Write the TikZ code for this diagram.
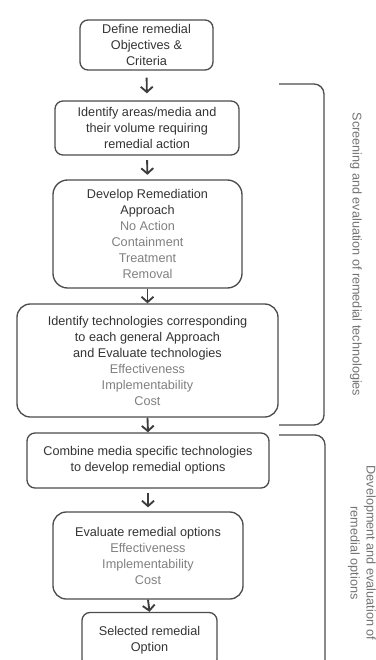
\documentclass[tikz,border=0pt]{standalone}
\usepackage{fontspec}
\setmainfont{Liberation Sans}
\usetikzlibrary{arrows.meta}
\definecolor{boxline}{gray}{0.3}
\definecolor{titlegray}{gray}{0.2}
\definecolor{itemgray}{gray}{0.5}
\newcommand{\itm}[1]{{\color{itemgray}#1}}
\tikzset{
  stepbox/.style={draw=boxline, line width=1pt, rounded corners=6pt, align=center,
    text=titlegray, font=\fontsize{9.5}{12}\selectfont, inner sep=2pt},
  flow/.style={draw=boxline!80!black, line width=1.4pt, -{Straight Barb[length=4pt,width=9pt]}},
  brk/.style={draw=boxline, line width=1pt, rounded corners=7.5pt},
  lbl/.style={text=itemgray!90!black, font=\fontsize{9.5}{12}\selectfont, align=center}
}
\begin{document}
\begin{tikzpicture}[x=0.75pt,y=-0.75pt]
\useasboundingbox (0,0) rectangle (375,660);
% steps
\node [stepbox, minimum width=99.75pt, minimum height=37.5pt] (def) at (146.5,45)
  {Define remedial\\Objectives \&\\Criteria};
\node [stepbox, minimum width=138pt, minimum height=40.5pt] (areas) at (147,128)
  {Identify areas/media and\\their volume requiring\\remedial action};
\node [stepbox, minimum width=141.75pt, minimum height=81pt, rounded corners=11pt] (appr) at (147.5,234)
  {Develop Remediation\\Approach\\\itm{No Action}\\\itm{Containment}\\\itm{Treatment}\\\itm{Removal}};
\node [stepbox, minimum width=195.75pt, minimum height=84.75pt, rounded corners=10pt] (tech) at (147.5,360.5)
  {Identify technologies corresponding\\to each general Approach\\and Evaluate technologies\\\itm{Effectiveness}\\\itm{Implementability}\\\itm{Cost}};
\node [stepbox, minimum width=181.5pt, minimum height=41.25pt] (comb) at (148,460.5)
  {Combine media specific technologies\\to develop remedial options};
\node [stepbox, minimum width=142.5pt, minimum height=65.25pt, rounded corners=10pt] (eval) at (148,555.5)
  {Evaluate remedial options\\\itm{Effectiveness}\\\itm{Implementability}\\\itm{Cost}};
\node [stepbox, minimum width=101.25pt, minimum height=41.25pt] (sel) at (149.5,640)
  {Selected remedial\\Option};
% arrows
\foreach \a/\b/\sh in {def/areas/5.25pt, areas/appr/3.4pt, appr/tech/0pt, tech/comb/0pt, comb/eval/3pt, eval/sel/0pt}
  \draw [flow, shorten <=\sh, shorten >=\sh] (\a.south) -- (\b.north);
% brackets
\draw [brk] (279,84) -- (324,84) -- (324,425) -- (279,425);
\draw [brk] (279,435) -- (325,435) -- (325,690);
\node [lbl, rotate=-90] (scr) at (356,254.5) {Screening and evaluation of remedial technologies};
\node [lbl, rotate=-90] (dev) at (362,553) {Development and evaluation of\\remedial options};
\end{tikzpicture}
\end{document}
